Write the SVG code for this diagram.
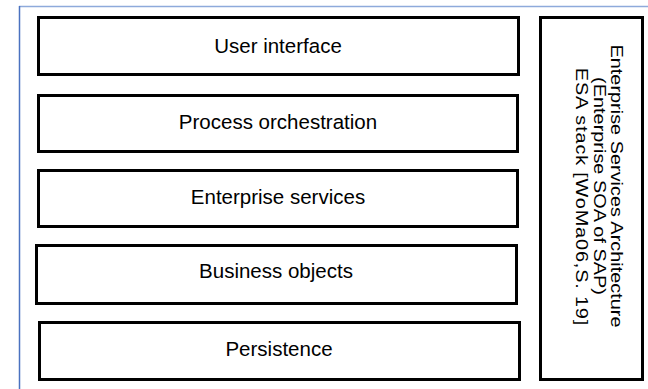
<svg xmlns="http://www.w3.org/2000/svg" width="648" height="389" viewBox="0 0 648 389">
  <style>
    .layer { fill: #ffffff; stroke: #000000; stroke-width: 3; }
    .label { font-family: "Liberation Sans", Arial, sans-serif; font-size: 20.5px; fill: #000000; text-anchor: middle; }
    .side { font-family: "Liberation Sans", Arial, sans-serif; font-size: 17px; fill: #000000; text-anchor: middle; }
  </style>
  <rect x="0" y="0" width="648" height="389" fill="#ffffff"/>
  <!-- page frame -->
  <g id="frame" fill="none">
    <line x1="19" y1="6.5" x2="648" y2="6.5" stroke="#8eaadb" stroke-width="1.5"/>
    <line x1="19.5" y1="6" x2="19.5" y2="389" stroke="#4a72c0" stroke-width="1.5"/>
  </g>
  <g id="connectors"></g>
  <g id="user-interface">
    <rect class="layer" x="38.5" y="17.5" width="480" height="57"/>
    <text class="label" x="278" y="53">User interface</text>
  </g>
  <g id="process-orchestration">
    <rect class="layer" x="38.5" y="95.5" width="479" height="56"/>
    <text class="label" x="278" y="129">Process orchestration</text>
  </g>
  <g id="enterprise-services">
    <rect class="layer" x="38.5" y="170.5" width="479" height="56"/>
    <text class="label" x="278" y="204">Enterprise services</text>
  </g>
  <g id="business-objects">
    <rect class="layer" x="36.5" y="245.5" width="480" height="58"/>
    <text class="label" x="276" y="278">Business objects</text>
  </g>
  <g id="persistence">
    <rect class="layer" x="39.5" y="322.5" width="480" height="57"/>
    <text class="label" x="279" y="356">Persistence</text>
  </g>
  <g id="esa">
    <rect class="layer" x="540.5" y="17.5" width="102" height="362"/>
    <!-- rotated caption, read top to bottom -->
    <g transform="translate(611 186) rotate(90) scale(1.17 1)">
      <text class="side" x="0" y="0">Enterprise Services Architecture</text>
      <text class="side" x="0" y="17.5">(Enterprise SOA of SAP)</text>
      <text class="side" x="9" y="35" textLength="220" lengthAdjust="spacing">ESA stack [WoMa06,S. 19]</text>
    </g>
  </g>
</svg>
